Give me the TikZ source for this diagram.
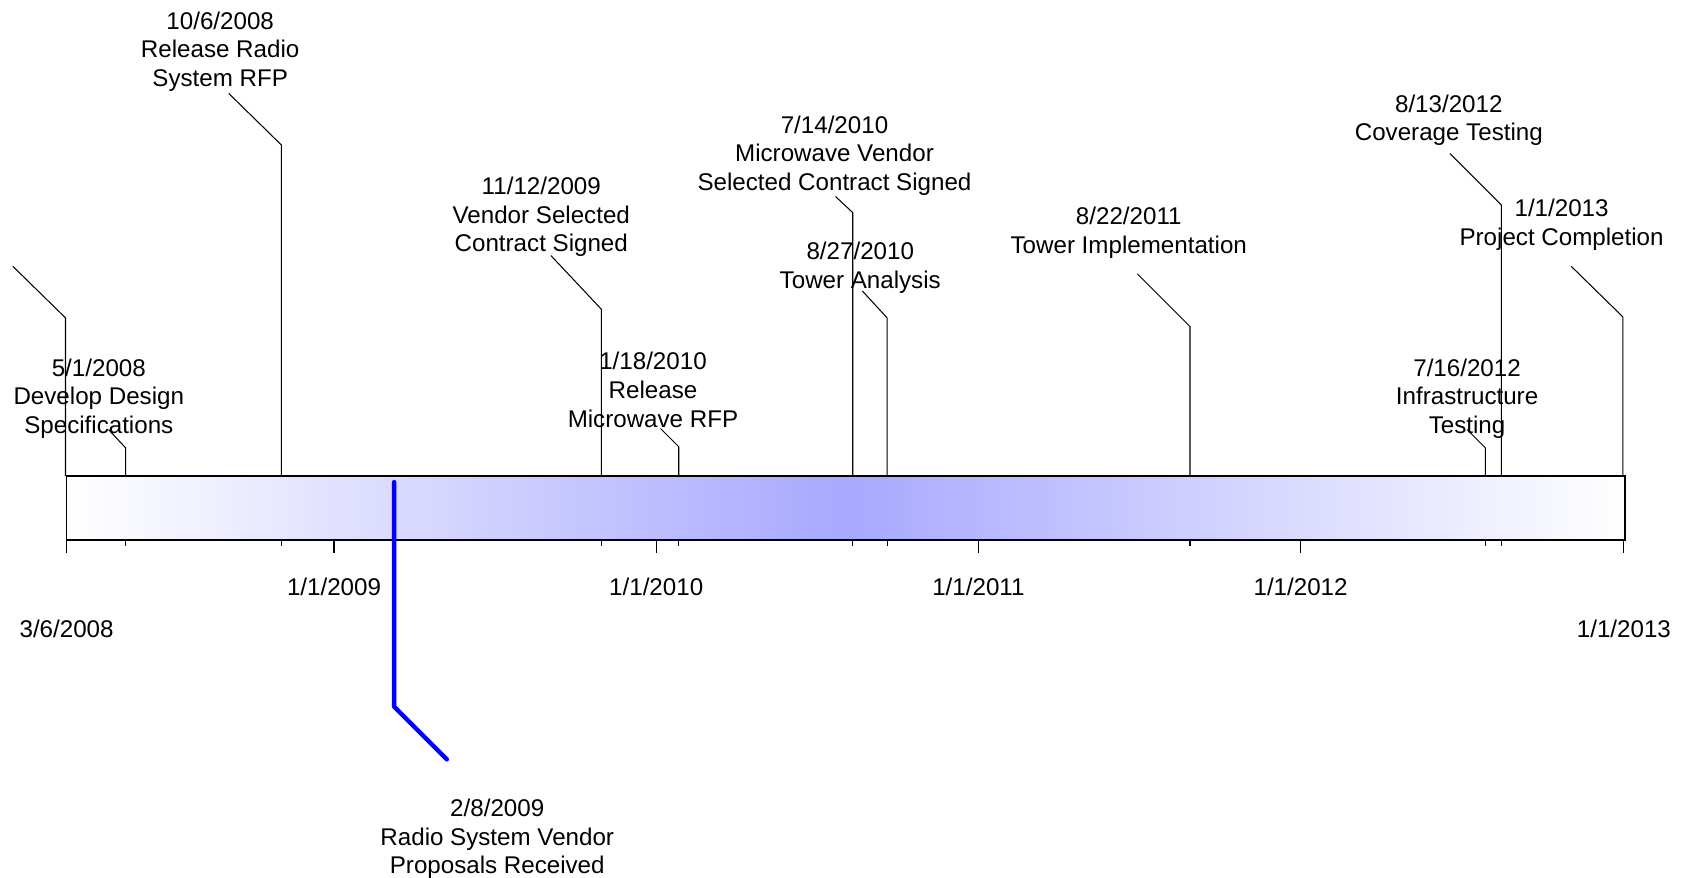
\documentclass[tikz,border=0pt]{standalone}
\usepackage{fontspec}
\setmainfont{Liberation Sans}
\usetikzlibrary{positioning}

\definecolor{barBlue}{RGB}{168, 168, 255}
\definecolor{milestoneBlue}{RGB}{0, 0, 255}

\tikzset{
    milestoneText/.style={
        align=center, inner sep=0pt,
        font=\fontsize{12.8}{15.2}\selectfont, text=black
    },
    axisDate/.style={
        inner sep=0pt,
        font=\fontsize{12.8}{15.2}\selectfont, text=black
    },
    leaderLine/.style={
        line width=0.55pt, color=black
    },
    leaderBlue/.style={
        line width=2.4pt, color=milestoneBlue,
        line cap=round, line join=round
    },
    tickLine/.style={
        line width=0.55pt, color=black
    },
    barFrame/.style={
        draw=black, line width=0.8pt
    },
}

\begin{document}
\begin{tikzpicture}[x=0.02cm, y=-0.02cm]
    \useasboundingbox (0,0) rectangle (1568,817);

    % ----------------------------------------------------------
    % BARRA DE TIEMPO (3/6/2008 -- 1/1/2013)
    % ----------------------------------------------------------
    \coordinate (barNW) at (62,443);
    \coordinate (barSE) at (1513,503);
    \shade[left color=white, right color=white, middle color=barBlue]
        (barNW) rectangle (barSE);
    \draw[barFrame] (barNW) rectangle (barSE);

    % ticks de años (largos) y de hitos (cortos)
    \draw[tickLine] (62,503) -- ++(0,12);
    \draw[tickLine] (311,503) -- ++(0,12);
    \draw[tickLine] (611,503) -- ++(0,12);
    \draw[tickLine] (911,503) -- ++(0,12);
    \draw[tickLine] (1211,503) -- ++(0,12);
    \draw[tickLine] (1512,503) -- ++(0,12);
    \draw[tickLine] (117,503) -- ++(0,5);
    \draw[tickLine] (262,503) -- ++(0,5);
    \draw[tickLine] (560,503) -- ++(0,5);
    \draw[tickLine] (632,503) -- ++(0,5);
    \draw[tickLine] (794,503) -- ++(0,5);
    \draw[tickLine] (826,503) -- ++(0,5);
    \draw[tickLine] (1108,503) -- ++(0,5);
    \draw[tickLine] (1383,503) -- ++(0,5);
    \draw[tickLine] (1398,503) -- ++(0,5);

    % fechas del eje
    \node[axisDate] (dateStart) at (62,586)   {3/6/2008};
    \node[axisDate] (date2009)  at (311,546)  {1/1/2009};
    \node[axisDate] (date2010)  at (611,546)  {1/1/2010};
    \node[axisDate] (date2011)  at (911,546)  {1/1/2011};
    \node[axisDate] (date2012)  at (1211,546) {1/1/2012};
    \node[axisDate] (dateEnd)   at (1512,586) {1/1/2013};

    % ----------------------------------------------------------
    % HITOS — textos
    % ----------------------------------------------------------
    \node[milestoneText] (specLabel)       at (92,371)   {5/1/2008\\Develop Design\\Specifications};
    \node[milestoneText] (rfpRadioLabel)   at (205,48)   {10/6/2008\\Release Radio\\System RFP};
    \node[milestoneText] (vendorSelLabel)  at (504,202)  {11/12/2009\\Vendor Selected\\Contract Signed};
    \node[milestoneText] (rfpMicroLabel)   at (608,363)  {1/18/2010\\Release\\Microwave RFP};
    \node[milestoneText] (microVendLabel)  at (777,145)  {7/14/2010\\Microwave Vendor\\Selected Contract Signed};
    \node[milestoneText] (towerAnLabel)    at (801,249)  {8/27/2010\\Tower Analysis};
    \node[milestoneText] (towerImplLabel)  at (1051,217) {8/22/2011\\Tower Implementation};
    \node[milestoneText] (infraLabel)      at (1366,371) {7/16/2012\\Infrastructure\\Testing};
    \node[milestoneText] (coverageLabel)   at (1349,112) {8/13/2012\\Coverage Testing};
    \node[milestoneText] (completionLabel) at (1454,209) {1/1/2013\\Project Completion};
    \node[milestoneText] (proposalsLabel)  at (463,781)  {2/8/2009\\Radio System Vendor\\Proposals Received};

    % ----------------------------------------------------------
    % HITOS — líneas guía (base en la barra, punta junto al texto)
    % ----------------------------------------------------------
    \coordinate (startBase)      at (61,443);   \coordinate (startTip)      at (12,248);
    \coordinate (specBase)       at (117,443);  \coordinate (specTip)       at (101,400);
    \coordinate (rfpRadioBase)   at (262,443);  \coordinate (rfpRadioTip)   at (213,87);
    \coordinate (vendorSelBase)  at (560,443);  \coordinate (vendorSelTip)  at (513,238);
    \coordinate (rfpMicroBase)   at (632,443);  \coordinate (rfpMicroTip)   at (615,399);
    \coordinate (microVendBase)  at (794,443);  \coordinate (microVendTip)  at (778,183);
    \coordinate (towerAnBase)    at (826,443);  \coordinate (towerAnTip)    at (803,271);
    \coordinate (towerImplBase)  at (1108,443); \coordinate (towerImplTip)  at (1059,255);
    \coordinate (infraBase)      at (1383,443); \coordinate (infraTip)      at (1366,400);
    \coordinate (coverageBase)   at (1398,443); \coordinate (coverageTip)   at (1350,143);
    \coordinate (completionBase) at (1511,443); \coordinate (completionTip) at (1463,248);
    \coordinate (proposalsBase)  at (367,449);  \coordinate (proposalsTip)  at (416,707);

    \draw[leaderLine] (startBase)      -- ++(0,-147) -- (startTip);
    \draw[leaderLine] (specBase)       -- ++(0,-26)  -- (specTip);
    \draw[leaderLine] (rfpRadioBase)   -- ++(0,-308) -- (rfpRadioTip);
    \draw[leaderLine] (vendorSelBase)  -- ++(0,-155) -- (vendorSelTip);
    \draw[leaderLine] (rfpMicroBase)   -- ++(0,-27)  -- (rfpMicroTip);
    \draw[leaderLine] (microVendBase)  -- ++(0,-245) -- (microVendTip);
    \draw[leaderLine] (towerAnBase)    -- ++(0,-147) -- (towerAnTip);
    \draw[leaderLine] (towerImplBase)  -- ++(0,-139) -- (towerImplTip);
    \draw[leaderLine] (infraBase)      -- ++(0,-26)  -- (infraTip);
    \draw[leaderLine] (coverageBase)   -- ++(0,-252) -- (coverageTip);
    \draw[leaderLine] (completionBase) -- ++(0,-148) -- (completionTip);

    % hito resaltado (debajo de la barra)
    \draw[leaderBlue] (proposalsBase) -- ++(0,209) -- (proposalsTip);

\end{tikzpicture}
\end{document}
